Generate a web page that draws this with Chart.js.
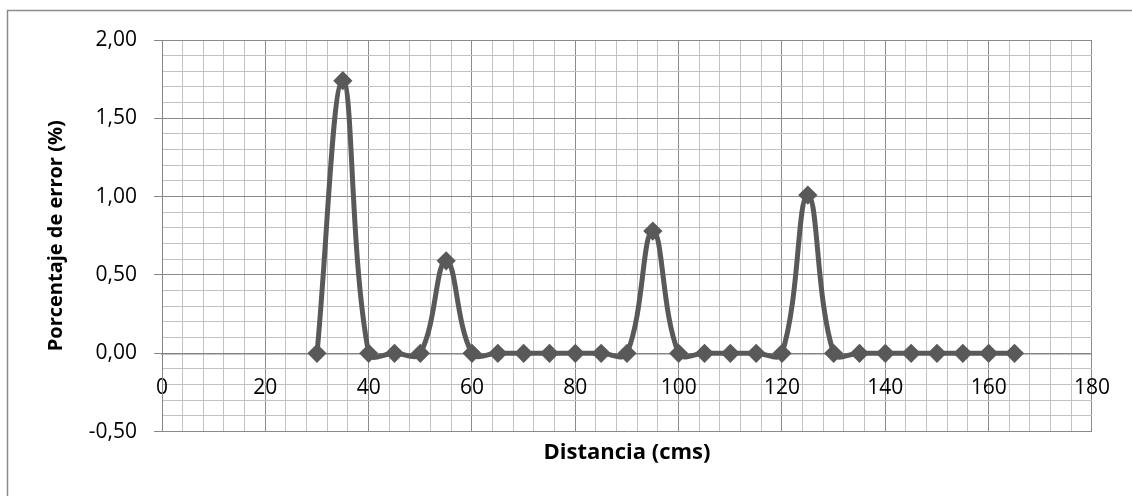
<!DOCTYPE html>
<html lang="es">
<head>
<meta charset="utf-8">
<title>Porcentaje de error vs distancia</title>
<script src="https://cdn.jsdelivr.net/npm/chart.js@4/dist/chart.umd.min.js"></script>
<style>
  html, body { margin: 0; padding: 0; background: #ffffff; }
  canvas { display: block; }
</style>
</head>
<body>
<canvas id="grafico" width="1132" height="496"></canvas>
<script>
// Distancia (cms) de cada medición
const distancias = [30, 35, 40, 45, 50, 55, 60, 65, 70, 75, 80, 85, 90, 95,
                    100, 105, 110, 115, 120, 125, 130, 135, 140, 145, 150, 155, 160, 165];
// Porcentaje de error (%) en cada distancia
const errores = [0, 1.74, 0, 0, 0, 0.59, 0, 0, 0, 0, 0, 0, 0, 0.78,
                 0, 0, 0, 0, 0, 1.01, 0, 0, 0, 0, 0, 0, 0, 0];

// Rangos y divisiones de los ejes
const ejeX = { min: 0, max: 180, paso: 4, pasoMayor: 20 };
const ejeY = { min: -0.5, max: 2.0, paso: 0.1, pasoMayor: 0.5 };

const tituloX = 'Distancia (cms)';
const tituloY = 'Porcentaje de error (%)';

const COLOR_SERIE = '#595959';
const GRID_MAYOR = '#8a8a8a';
const GRID_MENOR = '#c2c2c2';
const FUENTE = "'Open Sans', 'Liberation Sans', sans-serif";

const esMayorX = v => Math.abs(Math.round(v) % ejeX.pasoMayor) === 0;
const esMayorY = v => Math.abs(Math.round(v * 10)) % Math.round(ejeY.pasoMayor * 10) === 0;

// Marco exterior del gráfico
const marco = {
  id: 'marco',
  beforeDraw(chart) {
    const ctx = chart.ctx;
    ctx.save();
    ctx.strokeStyle = '#8c8c8c';
    ctx.lineWidth = 1.5;
    ctx.beginPath();
    ctx.moveTo(7.5, chart.height);
    ctx.lineTo(7.5, 10.5);
    ctx.lineTo(chart.width, 10.5);
    ctx.stroke();
    ctx.restore();
  }
};

new Chart(document.getElementById('grafico'), {
  type: 'scatter',
  data: {
    datasets: [{
      data: distancias.map((d, i) => ({ x: d, y: errores[i] })),
      showLine: true,
      tension: 0.4,
      borderColor: COLOR_SERIE,
      borderWidth: 5,
      backgroundColor: COLOR_SERIE,
      pointStyle: 'rectRot',
      pointRadius: 7.5,
      pointBorderWidth: 3,
      pointBorderColor: COLOR_SERIE,
      pointBackgroundColor: COLOR_SERIE,
      pointHoverRadius: 7.5
    }]
  },
  options: {
    responsive: false,
    animation: false,
    events: [],
    layout: { padding: { left: 0, top: 40, right: 40, bottom: 20 } },
    plugins: {
      legend: { display: false },
      tooltip: { enabled: false },
      title: {
        display: true,
        text: tituloX,
        position: 'bottom',
        fullSize: false,
        color: '#000000',
        font: { family: FUENTE, size: 22, weight: 'bold' },
        padding: { top: 8, bottom: 10 }
      }
    },
    scales: {
      x: {
        type: 'linear',
        position: { y: 0 },
        min: ejeX.min,
        max: ejeX.max,
        grid: {
          color: c => esMayorX(c.tick.value) ? GRID_MAYOR : GRID_MENOR,
          lineWidth: 1,
          drawTicks: false
        },
        border: { display: true, color: '#868686', width: 1.5 },
        ticks: {
          stepSize: ejeX.paso,
          autoSkip: false,
          maxRotation: 0,
          padding: 22,
          color: '#000000',
          font: { family: FUENTE, size: 21 },
          callback: v => esMayorX(v) ? String(v) : ''
        }
      },
      y: {
        type: 'linear',
        position: 'left',
        min: ejeY.min,
        max: ejeY.max,
        afterFit(scale) { scale.width = 162; },
        grid: {
          color: c => esMayorY(c.tick.value) ? GRID_MAYOR : GRID_MENOR,
          lineWidth: 1,
          drawTicks: true,
          tickLength: 8,
          tickColor: c => esMayorY(c.tick.value) ? '#868686' : 'rgba(0,0,0,0)'
        },
        border: { display: true, color: '#868686', width: 1 },
        ticks: {
          stepSize: ejeY.paso,
          autoSkip: false,
          padding: 17,
          color: '#000000',
          font: { family: FUENTE, size: 21 },
          callback: v => esMayorY(v) ? v.toFixed(2).replace('.', ',') : ''
        },
        title: {
          display: true,
          text: tituloY,
          color: '#000000',
          font: { family: FUENTE, size: 20, weight: 'bold' },
          padding: { top: 44, bottom: 0 }
        }
      }
    }
  },
  plugins: [marco]
});
</script>
</body>
</html>
